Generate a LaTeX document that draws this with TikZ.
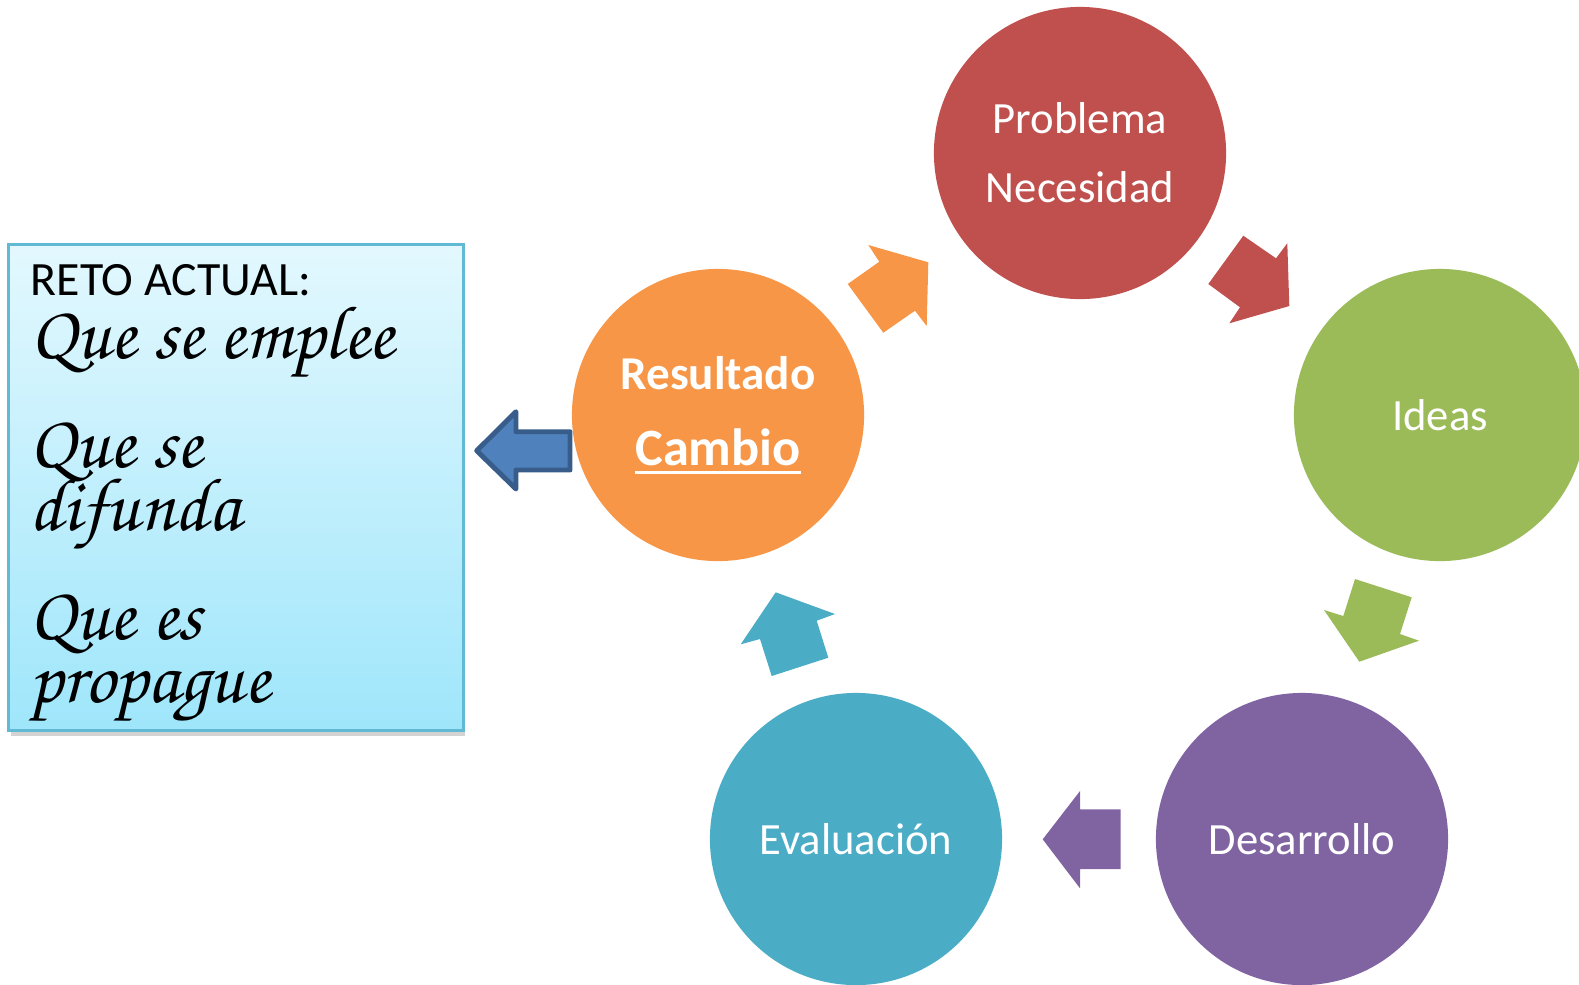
\documentclass[tikz,border=0pt]{standalone}
\usepackage{fontspec}
\setmainfont{Carlito}
\newfontfamily\retofont{texgyrechorus-mediumitalic.otf}
\usepackage{tikz}
\usetikzlibrary{shadows}

\definecolor{rojo}{HTML}{C0504D}
\definecolor{verde}{HTML}{9BBB59}
\definecolor{morado}{HTML}{8064A2}
\definecolor{turquesa}{HTML}{4BACC6}
\definecolor{naranja}{HTML}{F79646}
\definecolor{azul}{HTML}{4F81BD}
\definecolor{azuloscuro}{HTML}{385D8A}
\definecolor{cielo}{HTML}{E3F8FE}
\definecolor{cielofondo}{HTML}{9FE6FB}
\definecolor{borde}{HTML}{62B9D4}

\newcommand{\subrayado}[1]{\leavevmode\vtop{\hbox{#1}\kern1.3pt\hrule height 0.9pt}}
\newcommand{\apretado}{\lineskiplimit-50pt\relax}

\tikzset{
  etapa/.style={circle,minimum size=2.92cm,inner sep=0pt,text=white,align=center,
    font=\fontsize{12.7pt}{19.6pt}\selectfont},
  guion/.style={anchor=base west,inner sep=0pt,align=left,
    font={\retofont\fontsize{21.5pt}{17.7pt}\selectfont\apretado}},
}

\begin{document}
\begin{tikzpicture}[x=0.01cm,y=-0.01cm]
    \useasboundingbox (0,0) rectangle (1579,984);

    % flechas del ciclo
    \fill[naranja] (868.3,245) -- (928.3,262.3) -- (926.7,326) -- (915,310.7) -- (883.3,332.7) -- (847.7,284) -- (879.3,261.7) -- cycle;
    \fill[rojo] (1243.3,235.7) -- (1276,258.3) -- (1287.3,243.3) -- (1289.3,306) -- (1229.3,323.3) -- (1240,307.3) -- (1208.3,284) -- cycle;
    \fill[verde] (1355,579) -- (1411.7,597.3) -- (1400,634) -- (1419,640.7) -- (1359.3,661.7) -- (1324,610) -- (1343.3,616) -- cycle;
    \fill[morado] (1080,791) -- (1080,809.3) -- (1120.7,809.3) -- (1120.7,869) -- (1080,869) -- (1080,888.3) -- (1042.7,839.3) -- cycle;
    \fill[turquesa] (775.7,592.3) -- (835,614) -- (816.7,620.7) -- (828.3,657.7) -- (771.7,676) -- (760,639) -- (740.7,644.3) -- cycle;
    \filldraw[fill=azul,draw=azuloscuro,line width=1.4pt,line join=round] (476.7,450.7) -- (516,411.7) -- (516,431.7) -- (570,431.7) -- (570,470) -- (516,470) -- (516,489) -- cycle;

    % etapas
    \node[etapa,fill=rojo] (problema) at (1080,153) {Problema\\Necesidad};
    \node[etapa,fill=verde] (ideas) at (1440,415) {Ideas};
    \node[etapa,fill=morado] (desarrollo) at (1302,839) {Desarrollo};
    \node[etapa,fill=turquesa] (evaluacion) at (856,839) {Evaluación};
    \node[etapa,fill=naranja,font=\bfseries\fontsize{13.4pt}{21.8pt}\selectfont] (resultado) at (718,415)
        {Resultado\\{\fontsize{14.9pt}{21.8pt}\selectfont\subrayado{Cambio}}};

    % reto
    \node[draw=borde,line width=0.8pt,top color=cielo,bottom color=cielofondo,
          minimum width=4.54cm,minimum height=4.85cm,
          drop shadow={shadow xshift=0.6pt,shadow yshift=-1.6pt,opacity=0.35}] (reto) at (236,487.5) {};
    \node[guion] (lema1) at (30,358) {{\normalfont\fontsize{13.6pt}{17.7pt}\selectfont RETO ACTUAL:}\\Que se emplee};
    \node[guion] (lema2) at (29,530) {Que se\\difunda};
    \node[guion] (lema3) at (29,702) {Que es\\propague};
\end{tikzpicture}
\end{document}
